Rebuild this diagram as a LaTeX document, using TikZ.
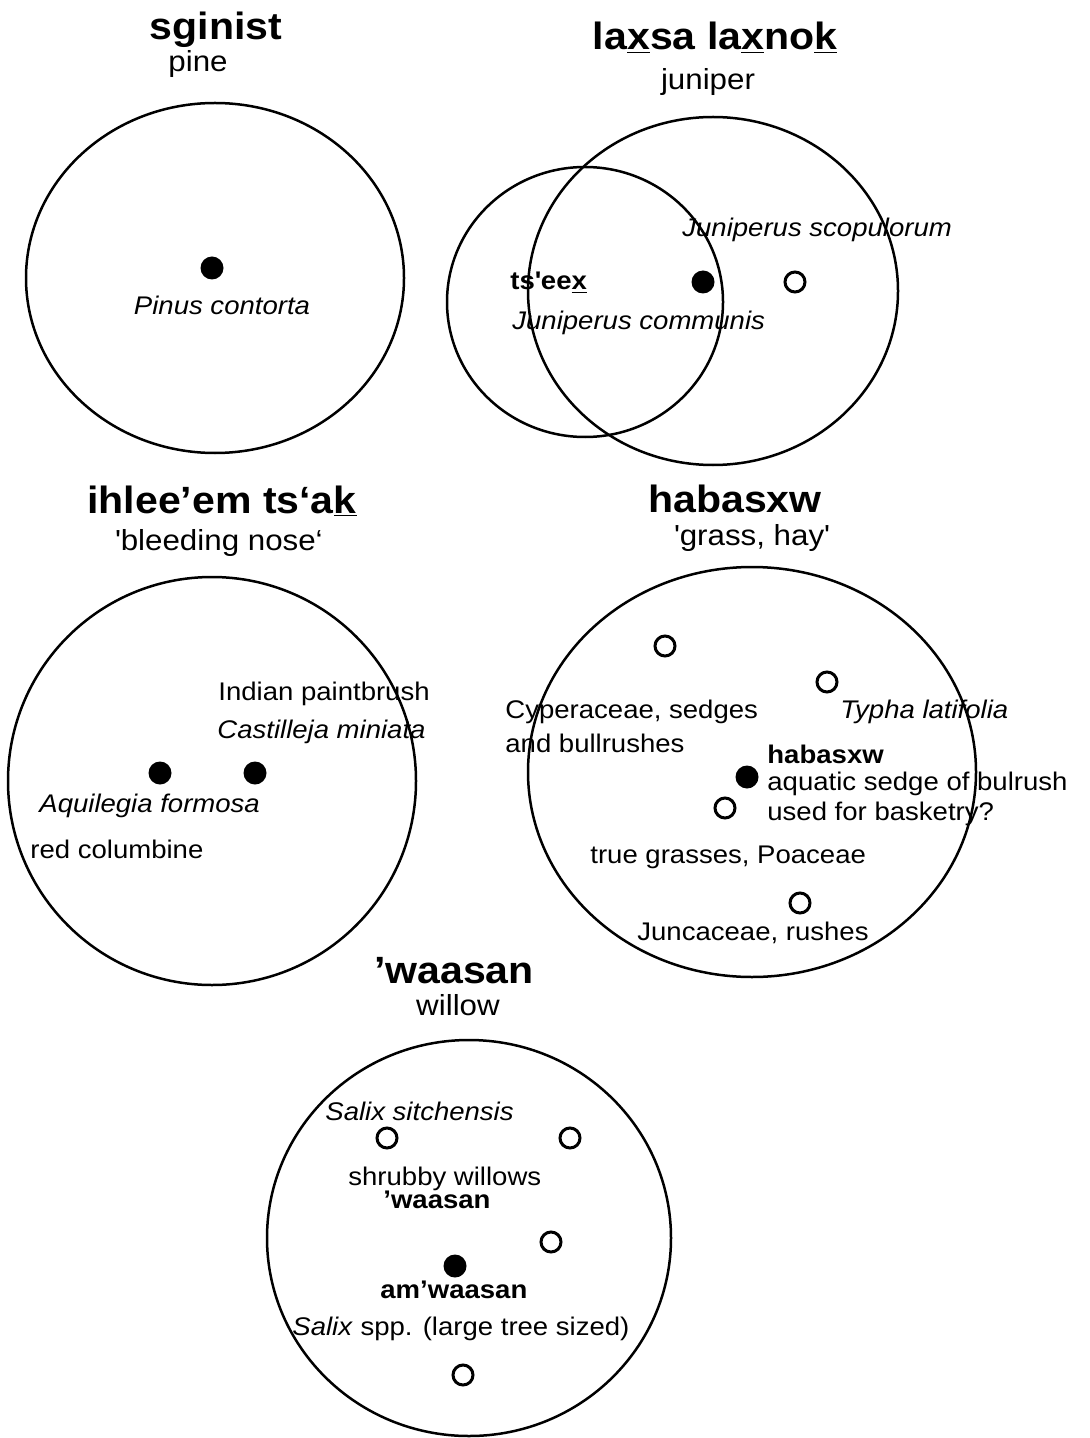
\documentclass[tikz,border=0pt]{standalone}
\usepackage{fontspec}
\setmainfont[FakeStretch=1.08]{Liberation Sans}
\usetikzlibrary{shapes.geometric}
\tikzset{
  ring/.style={draw, ellipse, line width=1.25pt, inner sep=0pt, outer sep=0pt},
  fdot/.style={circle, fill=black, minimum size=11.5pt, inner sep=0pt},
  odot/.style={circle, draw, line width=1.5pt, minimum size=10pt, inner sep=0pt},
  ttl/.style={anchor=base, inner sep=0pt, font=\fontsize{19}{22}\selectfont\bfseries},
  sub/.style={anchor=base, inner sep=0pt, font=\fontsize{14.5}{17}\selectfont},
  lbl/.style={anchor=base west, inner sep=0pt, font=\fontsize{12.75}{15}\selectfont},
  lblc/.style={anchor=base, inner sep=0pt, font=\fontsize{12.75}{15}\selectfont}
}
\begin{document}
\begin{tikzpicture}[x=0.5pt, y=-0.5pt]
\path[use as bounding box, fill=white] (0,0) rectangle (1090,1438);

% ---------- sginist ----------
\node[ttl] (t1) at (216,40) {sginist};
\node[sub] (s1) at (198,72) {pine};
\node[ring, minimum width=189pt, minimum height=175pt] (c1) at (215,278) {};
\node[fdot] (d1) at (212,268) {};
\node[lblc, font=\fontsize{12.75}{15}\selectfont\itshape] (l1) at (222,315) {Pinus contorta};

% ---------- laxsa laxnok ----------
\node[ttl] (t2) at (715,50) {la\underline{x}sa la\underline{x}no\underline{k}};
\node[sub] (s2) at (708,90) {juniper};
\node[ring, minimum width=138pt, minimum height=135pt] (c2a) at (585,302) {};
\node[ring, minimum width=185pt, minimum height=174pt] (c2b) at (713,291) {};
\node[fdot] (d2a) at (703,282) {};
\node[odot] (d2b) at (795,282) {};
\node[lbl, font=\fontsize{12.75}{15}\selectfont\itshape] (l2a) at (682,237) {Juniperus scopulorum};
\node[lbl, font=\fontsize{12.75}{15}\selectfont\bfseries] (l2b) at (510,290) {ts\textquotesingle ee\underline{x}};
\node[lbl, font=\fontsize{12.75}{15}\selectfont\itshape] (l2c) at (512,330) {Juniperus communis};

% ---------- ihlee'em ts'ak ----------
\node[ttl] (t3) at (222,513) {ihlee’em ts‘a\underline{k}};
\node[sub] (s3) at (219,550) {\textquotesingle bleeding nose‘};
\node[ring, minimum width=204pt, minimum height=204pt] (c3) at (212,781) {};
\node[fdot] (d3a) at (160,773) {};
\node[fdot] (d3b) at (255,773) {};
\node[lbl] (l3a) at (218,700) {Indian paintbrush};
\node[lbl, font=\fontsize{12.75}{15}\selectfont\itshape] (l3b) at (217,738) {Castilleja miniata};
\node[lbl, font=\fontsize{12.75}{15}\selectfont\itshape] (l3c) at (39,812) {Aquilegia formosa};
\node[lbl] (l3d) at (30,858) {red columbine};

% ---------- habasxw ----------
\node[ttl] (t4) at (735,512) {habasxw};
\node[sub] (s4) at (752,545) {\textquotesingle grass, hay\textquotesingle};
\node[ring, minimum width=224pt, minimum height=205pt] (c4) at (752,772) {};
\node[odot] (d4a) at (665,646) {};
\node[odot] (d4b) at (827,682) {};
\node[fdot] (d4c) at (747,777) {};
\node[odot] (d4d) at (725,808) {};
\node[odot] (d4e) at (800,903) {};
\node[lbl] (l4a) at (505,718) {Cyperaceae, sedges};
\node[lbl] (l4b) at (505,752) {and bullrushes};
\node[lbl, font=\fontsize{12.75}{15}\selectfont\itshape] (l4c) at (840,718) {Typha latifolia};
\node[lbl, font=\fontsize{12.75}{15}\selectfont\bfseries] (l4d) at (767,763) {habasxw};
\node[lbl] (l4e) at (767,790) {aquatic sedge of bulrush};
\node[lbl] (l4f) at (767,820) {used for basketry?};
\node[lbl] (l4g) at (590,863) {true grasses, Poaceae};
\node[lbl] (l4h) at (637,940) {Juncaceae, rushes};

% ---------- 'waasan ----------
\node[ttl] (t5) at (454,983) {’waasan};
\node[sub] (s5) at (458,1015) {willow};
\node[ring, minimum width=202pt, minimum height=198pt] (c5) at (469,1238) {};
\node[odot] (d5a) at (387,1138) {};
\node[odot] (d5b) at (570,1138) {};
\node[odot] (d5c) at (551,1242) {};
\node[fdot] (d5d) at (455,1266) {};
\node[odot] (d5e) at (463,1375) {};
\node[lbl, font=\fontsize{12.75}{15}\selectfont\itshape] (l5a) at (325,1120) {Salix sitchensis};
\node[lbl] (l5b) at (348,1185) {shrubby willows};
\node[lbl, font=\fontsize{12.75}{15}\selectfont\bfseries] (l5c) at (383,1208) {’waasan};
\node[lbl, font=\fontsize{12.75}{15}\selectfont\bfseries] (l5d) at (380,1298) {am’waasan};
\node[lbl] (l5e) at (292,1335) {\textit{Salix} spp. (large tree sized)};
\end{tikzpicture}
\end{document}
